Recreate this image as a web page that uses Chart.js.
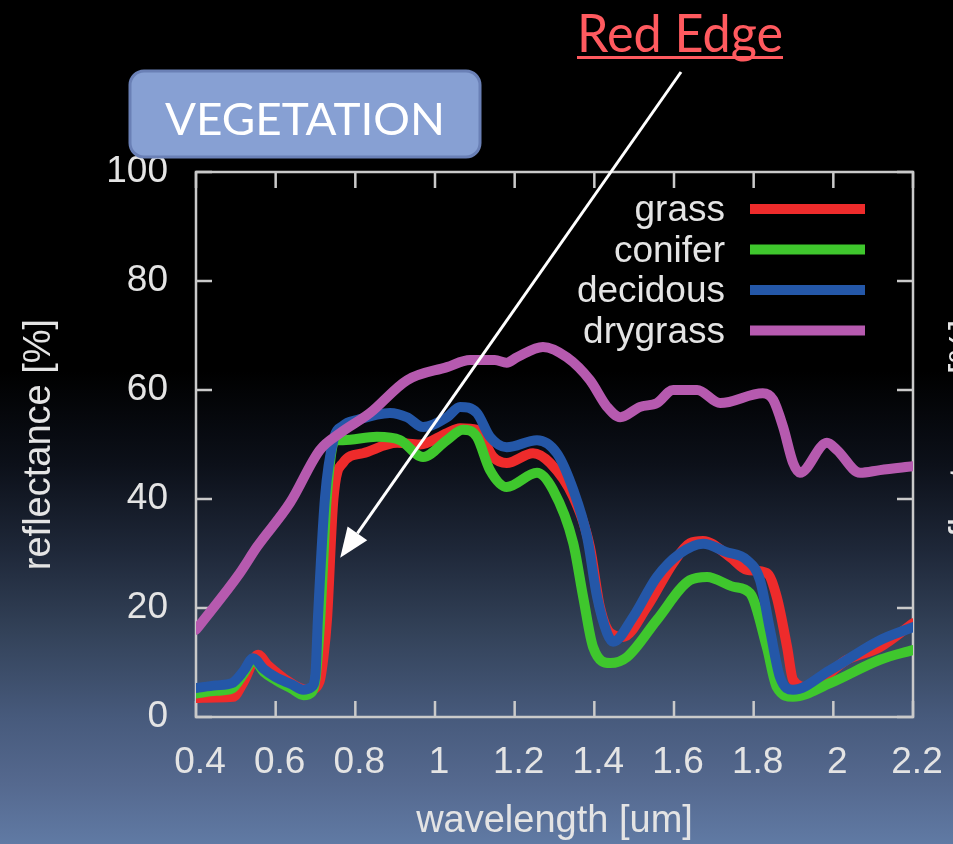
<!DOCTYPE html>
<html>
<head>
<meta charset="utf-8">
<script src="https://cdn.jsdelivr.net/npm/chart.js@4.4.1/dist/chart.umd.min.js"></script>
<style>
  html, body { margin: 0; padding: 0; background: #000; overflow: hidden; }
  canvas { display: block; }
</style>
</head>
<body>
<canvas id="spectra" width="953" height="844"></canvas>
<script>
// Reflectance spectra of vegetation types (wavelength in um, reflectance in %)
const seriesNames  = ['grass', 'conifer', 'decidous', 'drygrass'];
const seriesColors = ['#ee2b2b', '#3fc72d', '#2457a8', '#b65aaf'];

const grassWl   = [0.40, 0.45, 0.493, 0.52, 0.556, 0.58, 0.603, 0.63, 0.661, 0.686, 0.71, 0.72, 0.729, 0.745, 0.769, 0.819, 0.905, 0.962, 1.03, 1.063, 1.105, 1.146, 1.18, 1.246, 1.289, 1.347, 1.389, 1.414, 1.44, 1.472, 1.532, 1.598, 1.64, 1.673, 1.74, 1.783, 1.833, 1.858, 1.884, 1.899, 1.934, 2.034, 2.117, 2.2];
const grassRefl = [3.5, 3.6, 3.7, 6.5, 11.4, 9.5, 8.1, 6.6, 5.3, 5.0, 6.5, 11, 18, 40, 46.6, 48.4, 50.3, 50.0, 52.1, 53.0, 52.7, 47.7, 46.6, 48.4, 46.6, 40.4, 31.2, 20.2, 15.4, 14.7, 20.2, 28.3, 31.9, 32.3, 29.4, 27.0, 26.4, 22.0, 12.8, 6.8, 5.5, 10.5, 12.8, 17.2];

const coniferWl   = [0.40, 0.45, 0.49, 0.52, 0.545, 0.57, 0.60, 0.64, 0.67, 0.69, 0.70, 0.712, 0.728, 0.749, 0.769, 0.854, 0.912, 0.97, 1.03, 1.07, 1.105, 1.138, 1.18, 1.256, 1.296, 1.347, 1.372, 1.397, 1.44, 1.482, 1.557, 1.64, 1.683, 1.749, 1.791, 1.833, 1.858, 1.899, 1.992, 2.117, 2.2];
const coniferRefl = [4.3, 4.8, 5.2, 8.0, 10.5, 8.3, 6.8, 5.2, 4.0, 4.5, 7.0, 18, 40, 50.8, 50.8, 51.4, 50.8, 47.7, 50.8, 52.7, 51.4, 45.3, 42.2, 44.8, 41.7, 31.9, 22.0, 12.8, 9.9, 11.0, 17.8, 25.1, 25.7, 23.9, 22.7, 12.8, 5.5, 3.7, 6.2, 10.5, 12.3];

const decidousWl   = [0.40, 0.45, 0.49, 0.52, 0.543, 0.57, 0.60, 0.64, 0.669, 0.69, 0.70, 0.706, 0.724, 0.745, 0.77, 0.804, 0.887, 0.93, 0.97, 1.03, 1.063, 1.105, 1.138, 1.18, 1.256, 1.306, 1.347, 1.382, 1.407, 1.432, 1.447, 1.497, 1.557, 1.615, 1.673, 1.73, 1.783, 1.816, 1.841, 1.866, 1.899, 1.992, 2.117, 2.2];
const decidousRefl = [5.3, 5.8, 6.2, 8.5, 10.8, 8.8, 7.3, 6.0, 5.0, 5.5, 8.0, 18, 40.4, 50.8, 53.5, 54.5, 55.8, 55.0, 53.2, 55.0, 56.9, 55.8, 51.4, 49.5, 50.8, 48.4, 41.7, 33.0, 22.0, 15.4, 13.8, 18.3, 25.7, 30.0, 31.8, 30.3, 28.8, 25.1, 16.0, 7.3, 5.0, 8.6, 14.1, 16.5];

const drygrassWl   = [0.40, 0.51, 0.553, 0.636, 0.711, 0.762, 0.837, 0.93, 1.03, 1.088, 1.15, 1.18, 1.206, 1.271, 1.331, 1.389, 1.432, 1.465, 1.515, 1.557, 1.598, 1.658, 1.716, 1.823, 1.849, 1.874, 1.899, 1.916, 1.984, 2.009, 2.067, 2.117, 2.2];
const drygrassRefl = [16.0, 26.4, 31.2, 39.3, 49.0, 52.1, 55.8, 61.8, 64.2, 65.5, 65.5, 65.0, 66.0, 67.9, 66.0, 61.8, 56.9, 55.0, 56.9, 57.6, 60.0, 60.0, 57.6, 59.4, 58.2, 53.2, 46.6, 44.8, 50.3, 49.0, 44.8, 45.3, 46.0];

const xTicks      = [0.4, 0.6, 0.8, 1.0, 1.2, 1.4, 1.6, 1.8, 2.0, 2.2];
const xTickLabels = ['0.4', '0.6', '0.8', '1', '1.2', '1.4', '1.6', '1.8', '2', '2.2'];
const yTicks      = [0, 20, 40, 60, 80, 100];
const yTickLabels = ['0', '20', '40', '60', '80', '100'];

const seriesWl   = [grassWl, coniferWl, decidousWl, drygrassWl];
const seriesRefl = [grassRefl, coniferRefl, decidousRefl, drygrassRefl];
// draw order: drygrass on top, then decidous, conifer, grass
const seriesOrder = [3, 2, 1, 0];

const textColor = '#e4e4e4';
const sansFont = '"Liberation Sans", Arial, Helvetica, sans-serif';

const decor = {
  id: 'decor',
  beforeDraw(chart) {
    const { ctx, width, height } = chart;
    const g = ctx.createLinearGradient(0, 0, 0, height);
    g.addColorStop(0.00, '#000000');
    g.addColorStop(0.44, '#000000');
    g.addColorStop(0.55, '#0c1019');
    g.addColorStop(0.65, '#1e2738');
    g.addColorStop(0.75, '#334259');
    g.addColorStop(0.85, '#475a7c');
    g.addColorStop(0.93, '#55698f');
    g.addColorStop(1.00, '#607aa4');
    ctx.save();
    ctx.fillStyle = g;
    ctx.fillRect(0, 0, width, height);
    ctx.restore();
  },
  beforeDatasetsDraw(chart) {
    const { ctx, chartArea: a, scales: { x, y } } = chart;
    ctx.save();
    ctx.strokeStyle = '#cacaca';
    ctx.lineWidth = 2.5;
    ctx.strokeRect(a.left, a.top, a.right - a.left, a.bottom - a.top);
    ctx.beginPath();
    const tl = 16;
    xTicks.forEach(v => {
      const px = x.getPixelForValue(v);
      ctx.moveTo(px, a.bottom); ctx.lineTo(px, a.bottom - tl);
      ctx.moveTo(px, a.top);    ctx.lineTo(px, a.top + tl);
    });
    yTicks.forEach(v => {
      const py = y.getPixelForValue(v);
      ctx.moveTo(a.left, py);  ctx.lineTo(a.left + tl, py);
      ctx.moveTo(a.right, py); ctx.lineTo(a.right - tl, py);
    });
    ctx.stroke();
    ctx.restore();
  },
  afterDraw(chart) {
    const { ctx, scales: { x, y } } = chart;
    ctx.save();

    // key: label right-aligned, line sample to its right
    ctx.font = '37px ' + sansFont;
    ctx.textAlign = 'right';
    ctx.textBaseline = 'middle';
    chart.data.datasets.forEach((ds, i) => {
      const cy = 209 + i * 40.5;
      ctx.fillStyle = textColor;
      ctx.fillText(ds.label, 725, cy + 2);
      ctx.strokeStyle = ds.borderColor;
      ctx.lineWidth = 10;
      ctx.lineCap = 'butt';
      ctx.beginPath();
      ctx.moveTo(750, cy);
      ctx.lineTo(865, cy);
      ctx.stroke();
    });

    // VEGETATION badge
    const bx = 130, by = 71, bw = 350, bh = 86, r = 14;
    ctx.beginPath();
    ctx.roundRect(bx, by, bw, bh, r);
    ctx.fillStyle = '#87a0d3';
    ctx.fill();
    ctx.lineWidth = 3;
    ctx.strokeStyle = '#6a80b6';
    ctx.stroke();
    drawFitted(ctx, 'VEGETATION', 305, 135, 280, '45px Lato, "Open Sans", sans-serif', '#ffffff');

    // "Red Edge" callout with underline and arrow
    drawFitted(ctx, 'Red Edge', 680, 52, 206, '52px Lato, "Open Sans", sans-serif', '#ff5a5f');
    ctx.fillStyle = '#ff5a5f';
    ctx.fillRect(577, 56, 206, 3);

    const tipX = x.getPixelForValue(0.762);
    const tipY = y.getPixelForValue(29.2);
    const sx = 681, sy = 72;
    const ang = Math.atan2(tipY - sy, tipX - sx);
    const headLen = 30, headHalf = 12;
    const baseX = tipX - headLen * Math.cos(ang), baseY = tipY - headLen * Math.sin(ang);
    ctx.strokeStyle = '#ffffff';
    ctx.lineWidth = 3;
    ctx.beginPath();
    ctx.moveTo(sx, sy);
    ctx.lineTo(baseX, baseY);
    ctx.stroke();
    ctx.fillStyle = '#ffffff';
    ctx.beginPath();
    ctx.moveTo(tipX, tipY);
    ctx.lineTo(baseX + headHalf * Math.sin(ang), baseY - headHalf * Math.cos(ang));
    ctx.lineTo(baseX - headHalf * Math.sin(ang), baseY + headHalf * Math.cos(ang));
    ctx.closePath();
    ctx.fill();

    // neighbouring panel's axis title, cut by the right edge
    ctx.translate(966, 445);
    ctx.rotate(-Math.PI / 2);
    ctx.font = '38px ' + sansFont;
    ctx.textAlign = 'center';
    ctx.textBaseline = 'middle';
    ctx.fillStyle = textColor;
    ctx.fillText('reflectance [%]', 0, 0);

    ctx.restore();
  }
};

function drawFitted(ctx, text, cx, baseline, width, font, color) {
  ctx.save();
  ctx.font = font;
  ctx.textAlign = 'center';
  ctx.textBaseline = 'alphabetic';
  ctx.fillStyle = color;
  const w = ctx.measureText(text).width;
  ctx.translate(cx, baseline);
  ctx.scale(width / w, 1);
  ctx.fillText(text, 0, 0);
  ctx.restore();
}

const datasets = seriesNames.map((name, i) => ({
  label: name,
  data: seriesWl[i].map((wl, k) => ({ x: wl, y: seriesRefl[i][k] })),
  borderColor: seriesColors[i],
  borderWidth: 10,
  borderCapStyle: 'round',
  borderJoinStyle: 'round',
  pointRadius: 0,
  fill: false,
  cubicInterpolationMode: 'monotone',
  order: seriesOrder[i]
}));

new Chart(document.getElementById('spectra'), {
  type: 'line',
  data: { datasets },
  options: {
    responsive: false,
    animation: false,
    devicePixelRatio: 1,
    layout: { padding: { left: 0, right: 40, top: 172, bottom: 0 } },
    plugins: { legend: { display: false }, tooltip: { enabled: false } },
    scales: {
      x: {
        type: 'linear',
        min: 0.4, max: 2.2,
        afterBuildTicks: s => { s.ticks = xTicks.map(v => ({ value: v })); },
        afterFit: s => { s.height = 127; s.paddingLeft = 0; s.paddingRight = 0; },
        grid: { display: false, drawTicks: false },
        border: { display: false },
        ticks: {
          color: textColor,
          font: { family: sansFont, size: 37 },
          padding: 24,
          labelOffset: 4,
          maxRotation: 0,
          autoSkip: false,
          callback: (v, i) => xTickLabels[i]
        },
        title: {
          display: true,
          text: 'wavelength [um]',
          color: textColor,
          font: { family: sansFont, size: 38, lineHeight: 1 },
          padding: { top: 0, bottom: 3 }
        }
      },
      y: {
        type: 'linear',
        min: 0, max: 100,
        afterBuildTicks: s => { s.ticks = yTicks.map(v => ({ value: v })); },
        afterFit: s => { s.width = 196; s.paddingTop = 0; s.paddingBottom = 0; },
        grid: { display: false, drawTicks: false },
        border: { display: false },
        ticks: {
          color: textColor,
          font: { family: sansFont, size: 37 },
          padding: 28,
          autoSkip: false,
          callback: (v, i) => yTickLabels[i]
        },
        title: {
          display: true,
          text: 'reflectance [%]',
          color: textColor,
          font: { family: sansFont, size: 38, lineHeight: 1 },
          padding: { top: 21, bottom: 0 }
        }
      }
    }
  },
  plugins: [decor]
});
</script>
</body>
</html>
